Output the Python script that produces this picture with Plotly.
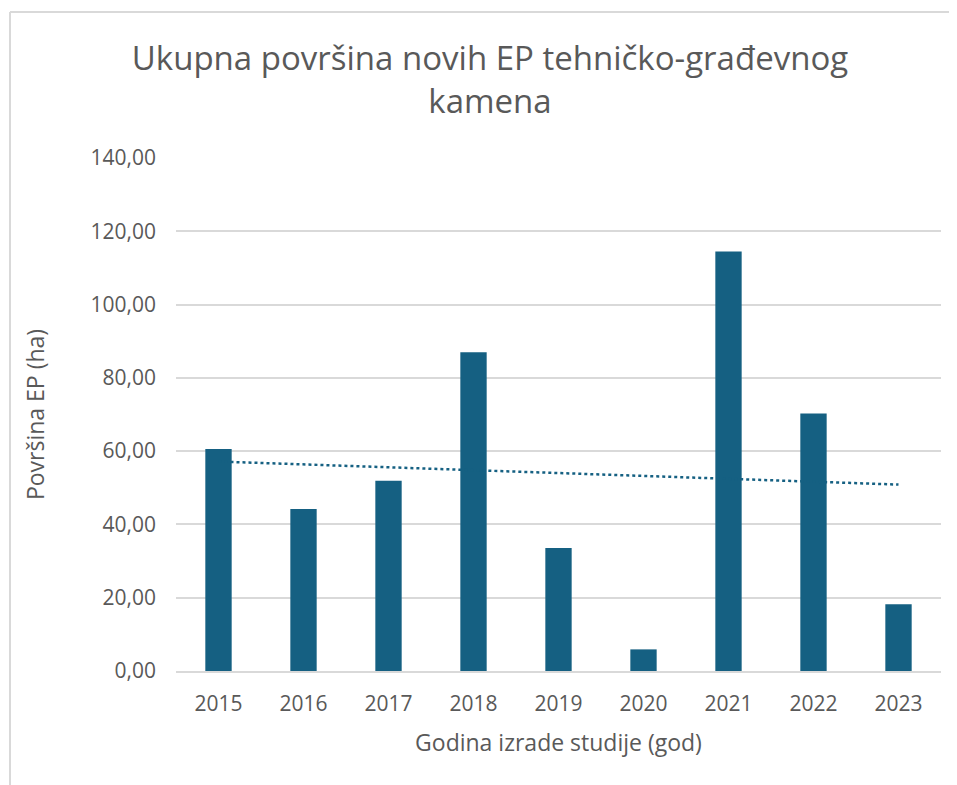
import numpy as np
import plotly.graph_objects as go

godine = ['2015', '2016', '2017', '2018', '2019', '2020', '2021', '2022', '2023']
povrsina = [60.6, 44.2, 51.9, 87.0, 33.6, 5.9, 114.5, 70.3, 18.2]

# linear trendline (like Excel)
x_idx = np.arange(len(povrsina))
k, n = np.polyfit(x_idx, povrsina, 1)
trend = k * x_idx + n

# page has 8px body margin -> figure sits 8px in from the window corner
W, H = 949, 777
L, R, T, B = 168, 16, 150, 114
pw, ph = W - L - R, H - T - B

def px_x(p):
    return (p - L) / pw

def px_y(p):
    return (H - B - p) / ph

siva = '#595959'
boja = '#156082'

fig = go.Figure()
fig.add_bar(x=godine, y=povrsina, marker=dict(color=boja, line=dict(width=0)), showlegend=False)
fig.add_scatter(x=godine, y=trend, mode='lines', line=dict(color=boja, width=2.5, dash='dot'),
                showlegend=False)

fig.update_layout(
    width=W, height=H,
    margin=dict(l=L, r=R, t=T, b=B),
    paper_bgcolor='white', plot_bgcolor='white',
    separators=',.',
    bargap=0.69,
    font=dict(family='Open Sans, sans-serif', color=siva),
    title=dict(text='Ukupna površina novih EP tehničko-građevnog<br>kamena',
               x=482 / W, xanchor='center', xref='container',
               y=1 - 62 / H, yanchor='middle', yref='container',
               font=dict(size=33, color=siva)),
    xaxis=dict(showgrid=False, showline=True, linecolor='#d9d9d9', linewidth=1.5,
               ticks='', tickfont=dict(size=21, color=siva), ticklabelstandoff=13,
               title=dict(text='Godina izrade studije (god)', font=dict(size=23, color=siva),
                          standoff=19)),
    yaxis=dict(range=[0, 140], dtick=20, tickformat='.2f', showgrid=True,
               gridcolor='#d9d9d9', gridwidth=1.5, zeroline=False, showline=False,
               ticks='', tickfont=dict(size=21, color=siva), ticklabelstandoff=19,
               title=dict(text='Površina EP (ha)', font=dict(size=23, color=siva),
                          standoff=39)),
)

# chart border: only top and left edges are visible in the reference
rub = dict(color='#d9d9d9', width=2)
fig.add_shape(type='line', xref='paper', yref='paper',
              x0=px_x(2), x1=px_x(W), y0=px_y(4), y1=px_y(4), line=rub, layer='below')
fig.add_shape(type='line', xref='paper', yref='paper',
              x0=px_x(2), x1=px_x(2), y0=px_y(4), y1=px_y(H), line=rub, layer='below')

# no scrollbars in the screenshot
fig.write_html('out.html',
               post_script="document.documentElement.style.overflow='hidden';"
                           "document.body.style.overflow='hidden';")
